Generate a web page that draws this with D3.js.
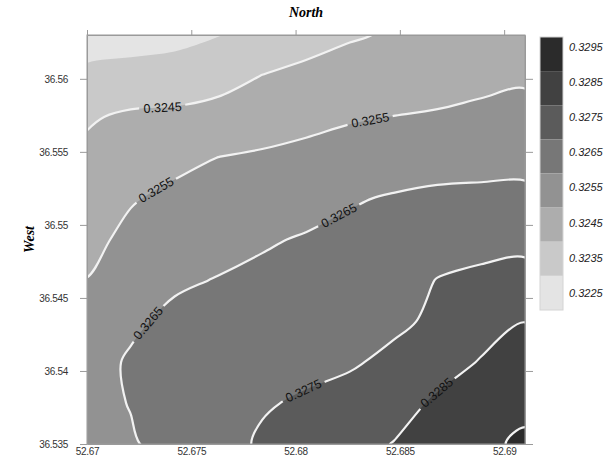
<!DOCTYPE html>
<html>
<head>
<meta charset="utf-8">
<script src="https://cdn.jsdelivr.net/npm/d3@7"></script>
<style>
body { margin: 0; background: #fff; }
svg { display: block; font-family: Arial, "Liberation Sans", sans-serif; }
.axis path, .axis line { stroke: #9a9a9a; }
.axis text { font-family: Arial, "Liberation Sans", sans-serif; font-size: 10px; fill: #333; letter-spacing: -0.3px; }
</style>
</head>
<body>
<div id="chart"></div>
<script>
// grid of the surface (rows from north to south)
var lons = [52.67, 52.6721, 52.6742, 52.6763, 52.6784, 52.6805, 52.6826, 52.6847, 52.6868, 52.6889, 52.691];
var lats = [36.563, 36.5602, 36.5574, 36.5546, 36.5518, 36.549, 36.5462, 36.5434, 36.5406, 36.5378, 36.535];
var values = [
  [0.32305, 0.32312, 0.3232, 0.32347, 0.32377, 0.32406, 0.3244, 0.3246, 0.32475, 0.3249, 0.325],
  [0.32371, 0.32382, 0.32394, 0.32415, 0.32452, 0.32478, 0.32494, 0.32505, 0.32515, 0.32527, 0.32537],
  [0.3244, 0.32465, 0.32469, 0.32484, 0.32509, 0.32526, 0.32541, 0.32551, 0.32558, 0.32569, 0.32579],
  [0.3247, 0.32499, 0.32527, 0.32551, 0.32561, 0.32573, 0.3259, 0.32607, 0.32616, 0.3262, 0.32623],
  [0.32497, 0.32543, 0.3257, 0.32585, 0.32601, 0.32618, 0.32643, 0.32657, 0.32667, 0.3267, 0.32671],
  [0.32524, 0.32573, 0.32603, 0.3262, 0.32641, 0.32657, 0.32669, 0.32683, 0.32709, 0.32721, 0.32724],
  [0.32552, 0.32604, 0.32637, 0.32654, 0.32668, 0.32681, 0.32693, 0.32709, 0.32753, 0.32769, 0.32783],
  [0.32585, 0.32635, 0.3267, 0.32675, 0.32691, 0.32706, 0.32717, 0.32735, 0.32764, 0.32813, 0.32849],
  [0.32615, 0.3266, 0.3268, 0.32695, 0.32714, 0.3273, 0.32741, 0.32768, 0.3281, 0.32856, 0.32888],
  [0.32625, 0.32653, 0.32685, 0.32708, 0.32743, 0.3276, 0.3278, 0.3281, 0.32865, 0.32893, 0.32927],
  [0.3262, 0.32642, 0.3268, 0.3272, 0.3276, 0.32785, 0.32815, 0.32853, 0.3289, 0.3293, 0.32966]
];
var levels = [0.3235, 0.3245, 0.3255, 0.3265, 0.3275, 0.3285, 0.3295];
var legendLevels = [0.3295, 0.3285, 0.3275, 0.3265, 0.3255, 0.3245, 0.3235, 0.3225];
var legendColors = ["#2b2b2b", "#414141", "#5b5b5b", "#777777", "#929292", "#adadad", "#c9c9c9", "#e4e4e4"];
var xTicks = [52.67, 52.675, 52.68, 52.685, 52.69];
var yTicks = [36.535, 36.54, 36.545, 36.55, 36.555, 36.56];
// which lines carry a label, and roughly where
var labelled = [0.3245, 0.3255, 0.3255, 0.3265, 0.3265, 0.3275, 0.3285];
var labelNear = [[52.6736, 36.5583], [52.68357, 36.5571], [52.67326, 36.5525], [52.68203, 36.5507],
                 [52.67302, 36.5432], [52.68055, 36.5382], [52.68693, 36.5383]];

var W = 611, H = 462;
var svg = d3.select("#chart").append("svg").attr("width", W).attr("height", H);

var x = d3.scaleLinear().domain([52.67, 52.691]).range([87, 525]);
var y = d3.scaleLinear().domain([36.535, 36.563]).range([444, 35]);
var gx = d3.scaleLinear().domain([0.5, lons.length - 0.5]).range([lons[0], lons[lons.length - 1]]);
var gy = d3.scaleLinear().domain([0.5, lats.length - 0.5]).range([lats[0], lats[lats.length - 1]]);
var color = d3.scaleOrdinal().domain(legendLevels).range(legendColors);

var contours = d3.contours().size([lons.length, lats.length]).thresholds(levels)(values.flat());

var ring = d3.line().curve(d3.curveCatmullRomClosed.alpha(0.5));
function toPx(p) { return [x(gx(p[0])), y(gy(p[1]))]; }
function shape(c) {
  return c.coordinates.map(function(poly) {
    return poly.map(function(r) { return ring(r.slice(0, -1).map(toPx)); }).join("");
  }).join("");
}

svg.append("defs").append("clipPath").attr("id", "plot-clip")
  .append("rect").attr("x", x(52.67)).attr("y", y(36.563))
  .attr("width", x(52.691) - x(52.67)).attr("height", y(36.535) - y(36.563));

var plot = svg.append("g").attr("clip-path", "url(#plot-clip)");
plot.append("rect")
  .attr("x", x(52.67)).attr("y", y(36.563))
  .attr("width", x(52.691) - x(52.67)).attr("height", y(36.535) - y(36.563))
  .attr("fill", color(0.3225));

plot.selectAll("path.band")
  .data(contours)
  .enter()
  .append("path")
  .attr("class", "band")
  .attr("d", shape)
  .attr("fill", function(d) { return color(d.value); });

var lines = plot.append("g")
  .selectAll("path")
  .data(contours.filter(function(d) { return d.value >= 0.3245; }))
  .enter()
  .append("path")
  .attr("d", shape)
  .attr("fill", "none")
  .attr("stroke", "#f2f2f2")
  .attr("stroke-width", 2.2);

// labels sit on the drawn line, nearest to their hint; the line is broken under them
var lineNode = {}, gaps = {};
lines.each(function(d) { lineNode[d.value] = this; gaps[d.value] = []; });
var labelG = svg.append("g");
labelled.forEach(function(lv, i) {
  var node = lineNode[lv], total = node.getTotalLength();
  var hx = x(labelNear[i][0]), hy = y(labelNear[i][1]);
  var best = 0, bd = Infinity;
  for (var s = 0; s <= total; s += 1) {
    var p = node.getPointAtLength(s);
    var dd = (p.x - hx) * (p.x - hx) + (p.y - hy) * (p.y - hy);
    if (dd < bd) { bd = dd; best = s; }
  }
  var pc = node.getPointAtLength(best),
      p0 = node.getPointAtLength(Math.max(0, best - 8)),
      p1 = node.getPointAtLength(Math.min(total, best + 8));
  var ang = Math.atan2(p1.y - p0.y, p1.x - p0.x) * 180 / Math.PI;
  if (ang > 90) ang -= 180;
  if (ang < -90) ang += 180;
  var t = labelG.append("text")
    .attr("transform", "translate(" + pc.x + "," + pc.y + ") rotate(" + ang + ")")
    .attr("text-anchor", "middle")
    .attr("dy", "0.35em")
    .attr("font-size", 12.5)
    .attr("fill", "#111")
    .text(d3.format(".4f")(lv));
  var half = t.node().getComputedTextLength() / 2 + 4;
  gaps[lv].push([best - half, best + half]);
});

lines.attr("stroke-dasharray", function(d) {
  var total = this.getTotalLength(), pos = 0, arr = [];
  gaps[d.value].sort(function(a, b) { return a[0] - b[0]; }).forEach(function(g) {
    arr.push(Math.max(0, g[0] - pos), g[1] - g[0]);
    pos = g[1];
  });
  arr.push(total, total);
  return arr.join(" ");
});

// frame
svg.append("rect")
  .attr("x", x(52.67)).attr("y", y(36.563))
  .attr("width", x(52.691) - x(52.67)).attr("height", y(36.535) - y(36.563))
  .attr("fill", "none").attr("stroke", "#9a9a9a");

var fmt = function(d) { return String(+d.toFixed(3)); };

svg.append("g").attr("class", "axis")
  .attr("transform", "translate(0," + y(36.563) + ")")
  .call(d3.axisTop(x).tickValues(xTicks).tickSize(5).tickSizeOuter(0).tickFormat(""));
svg.append("g").attr("class", "axis")
  .attr("transform", "translate(0," + y(36.535) + ")")
  .call(d3.axisBottom(x).tickValues(xTicks).tickSize(0).tickSizeOuter(0).tickPadding(4).tickFormat(fmt));
svg.append("g").attr("class", "axis")
  .attr("transform", "translate(" + x(52.67) + ",0)")
  .call(d3.axisLeft(y).tickValues(yTicks).tickSize(7).tickSizeOuter(0).tickPadding(12).tickFormat(fmt));
svg.append("g").attr("class", "axis")
  .attr("transform", "translate(" + x(52.691) + ",0)")
  .call(d3.axisRight(y).tickValues(yTicks).tickSize(8).tickSizeOuter(0).tickFormat(""));

// titles
svg.append("text")
  .attr("x", (x(52.67) + x(52.691)) / 2).attr("y", 17)
  .attr("text-anchor", "middle")
  .style("font-family", "'Liberation Serif', 'Times New Roman', serif")
  .style("font-weight", "bold").style("font-style", "italic").style("font-size", "14px")
  .text("North");
svg.append("text")
  .attr("transform", "translate(34," + (y(36.535) + y(36.563)) / 2 + ") rotate(-90)")
  .attr("text-anchor", "middle")
  .style("font-family", "'Liberation Serif', 'Times New Roman', serif")
  .style("font-weight", "bold").style("font-style", "italic").style("font-size", "14px")
  .text("West");

// colour key
var ky = d3.scaleBand().domain(legendLevels).range([37, 310]);
var kl = d3.scalePoint().domain(legendLevels).range([47, 293]);
var key = svg.append("g");
key.selectAll("rect")
  .data(legendLevels)
  .enter()
  .append("rect")
  .attr("x", 540).attr("y", function(d) { return ky(d); })
  .attr("width", 23).attr("height", ky.bandwidth())
  .attr("fill", function(d) { return color(d); });
key.append("rect")
  .attr("x", 540).attr("y", 37).attr("width", 23).attr("height", 273)
  .attr("fill", "none").attr("stroke", "#d4d4d4");
key.selectAll("text")
  .data(legendLevels)
  .enter()
  .append("text")
  .attr("x", 569).attr("y", function(d) { return kl(d); })
  .attr("dy", "0.35em")
  .attr("font-size", 11).attr("font-style", "italic").attr("fill", "#222")
  .text(function(d) { return d3.format(".4f")(d); });
</script>
</body>
</html>
